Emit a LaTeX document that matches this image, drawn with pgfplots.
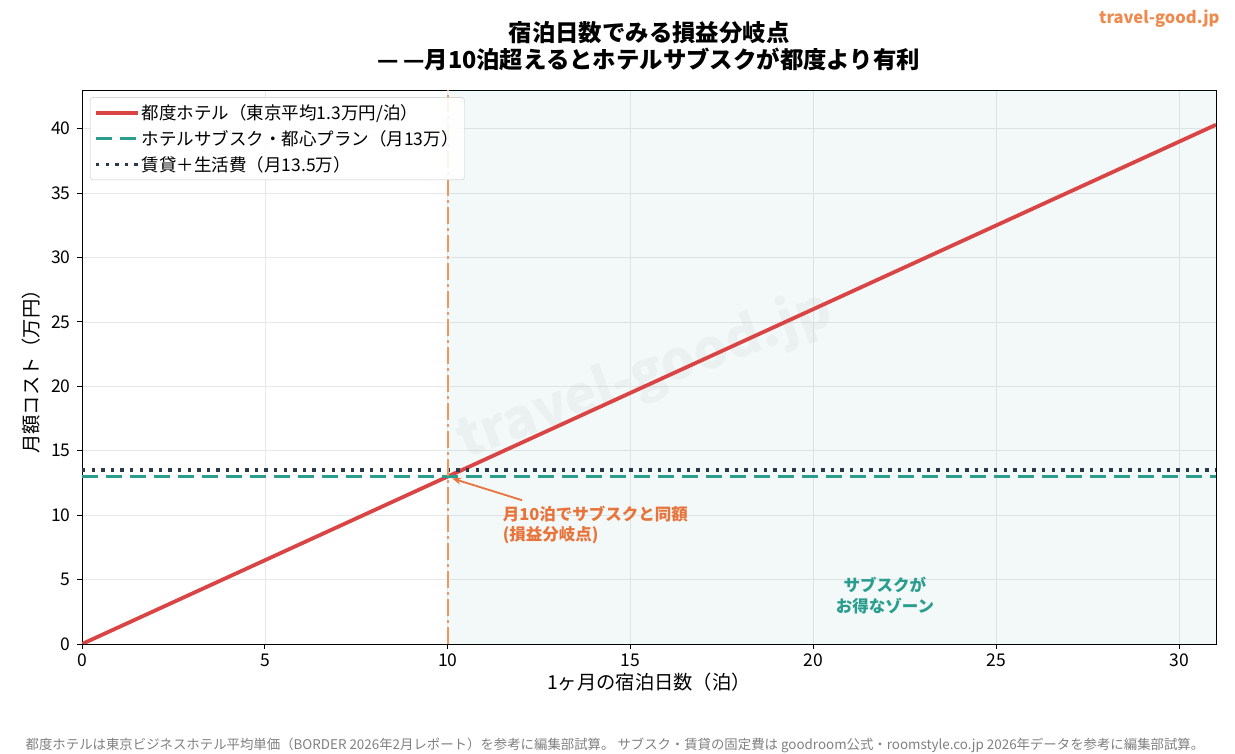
\documentclass[border=0pt]{standalone}
\usepackage{pgfplots}
\pgfplotsset{compat=1.18}
\usepackage{fontspec}
\setmainfont{Noto Sans CJK JP}
\usetikzlibrary{arrows.meta}
\definecolor{cred}{HTML}{D94545}
\definecolor{cteal}{HTML}{2A9D8F}
\definecolor{cdark}{HTML}{2B3A4A}
\definecolor{corange}{HTML}{EE8A4E}
\definecolor{ctext}{HTML}{E8743B}
\begin{document}
\begin{tikzpicture}
\useasboundingbox (-82pt,-110pt) rectangle (1153pt,644pt);
\begin{axis}[
  scale only axis, width=1134pt, height=554pt,
  xmin=0, xmax=31, ymin=0, ymax=43,
  xtick={0,5,10,15,20,25,30}, ytick={0,5,10,15,20,25,30,35,40},
  tick pos=left,
  tick align=outside, major tick length=5pt,
  tick style={black, line width=0.9pt},
  axis line style={black, line width=0.9pt},
  grid=major, grid style={gray!18, line width=0.8pt},
  /pgf/number format/assume math mode=true,
  ticklabel style={font=\fontsize{17.5}{19}\selectfont},
  yticklabel style={xshift=-3pt},
  xticklabel style={yshift=-1pt},
  xlabel={1ヶ月の宿泊日数（泊）}, ylabel={月額コスト（万円）},
  label style={font=\fontsize{19.3}{21}\selectfont},
  xlabel style={yshift=0pt},
  ylabel style={yshift=4pt},
  legend style={at={(0.007,0.987)}, anchor=north west, draw=gray!45, rounded corners=3pt,
    font=\fontsize{17.5}{20}\selectfont, row sep=5.5pt, inner xsep=4pt, inner ysep=5pt, fill=white, fill opacity=0.9, text opacity=1,
    nodes={xshift=2pt}},
  legend cell align=left,
  legend image code/.code={\draw[#1] (0pt,0pt) -- (42pt,0pt);},
  clip=true,
]
\addplot[draw=none, fill=cteal, fill opacity=0.06, forget plot] coordinates {(10,0) (31,0) (31,43) (10,43)} -- cycle;
\node[rotate=20, font=\fontsize{54}{54}\selectfont\bfseries, text=gray!60, opacity=0.12] at (axis cs:15.4,20.8) {travel-good.jp};
\addplot[cred, line width=3.8pt] coordinates {(0,0) (31,40.3)};
\addlegendentry{都度ホテル（東京平均1.3万円/泊）}
\addplot[cteal, line width=3.4pt, dash pattern=on 16pt off 8pt] coordinates {(0,13) (31,13)};
\addlegendentry{ホテルサブスク・都心プラン（月13万）}
\addplot[cdark, line width=3.4pt, dash pattern=on 3.4pt off 6.2pt] coordinates {(0,13.5) (31,13.5)};
\addlegendentry{賃貸＋生活費（月13.5万）}
\addplot[corange!90, line width=2.4pt, dash pattern=on 17pt off 4pt on 3pt off 4pt, forget plot] coordinates {(10,0) (10,43)};
\draw[-{Stealth[length=9pt,width=7pt]}, ctext, line width=1.8pt] (axis cs:12.03,11.16) -- (axis cs:10.12,12.85);
\node[anchor=north west, align=left, text=ctext, font=\fontsize{16.5}{20.5}\selectfont\bfseries, inner sep=0pt] at (axis cs:11.5,10.75) {月10泊でサブスクと同額\\(損益分岐点)};
\node[align=center, text=cteal, font=\fontsize{16.5}{20.5}\selectfont\bfseries, inner sep=0pt] at (axis cs:21.95,3.75) {サブスクが\\お得なゾーン};
\end{axis}
\node[align=center, font=\fontsize{23.4}{27}\selectfont\bfseries] at (567pt,598pt) {宿泊日数でみる損益分岐点\\—\,—月10泊超えるとホテルサブスクが都度より有利};
\node[anchor=east, text=corange, font=\fontsize{16.5}{18}\selectfont\bfseries] at (1141pt,625pt) {travel-good.jp};
\node[text=gray, font=\fontsize{13.4}{15}\selectfont] at (533pt,-101pt) {都度ホテルは東京ビジネスホテル平均単価（BORDER 2026年2月レポート）を参考に編集部試算。 サブスク・賃貸の固定費は goodroom公式・roomstyle.co.jp 2026年データを参考に編集部試算。};
\end{tikzpicture}
\end{document}
